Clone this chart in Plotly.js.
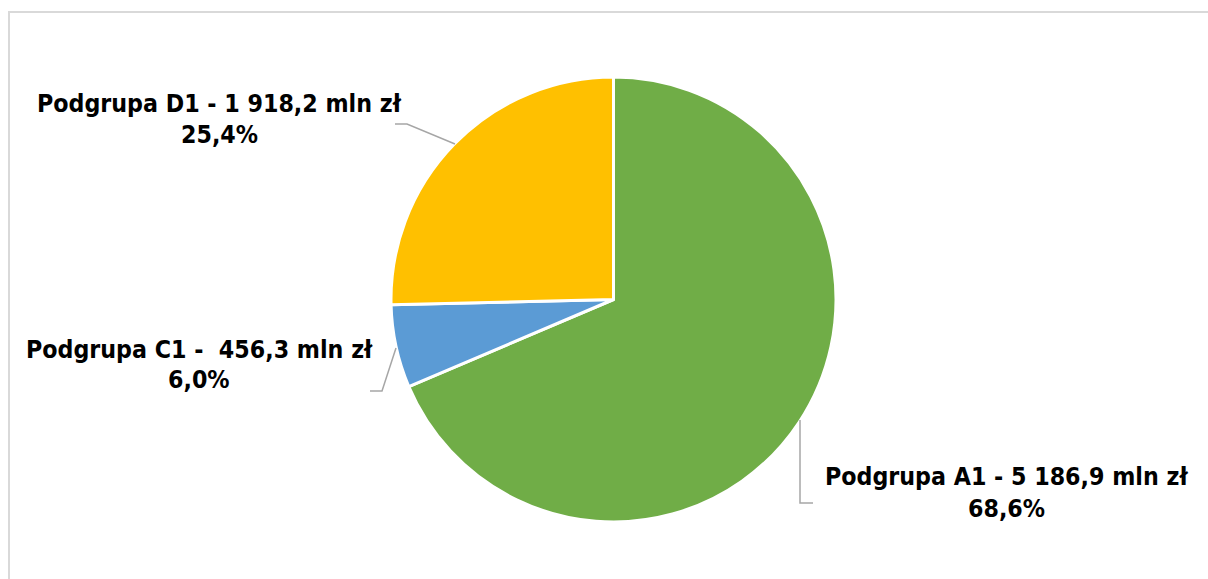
<!DOCTYPE html>
<html>
<head>
<meta charset="utf-8">
<script src="https://cdn.plot.ly/plotly-3.0.1.min.js"></script>
<style>html,body{margin:0;padding:0;background:#fff;}#chart{width:1208px;height:579px;}</style>
</head>
<body>
<div id="chart"></div>
<script>
// Data
const categories = ["Podgrupa A1", "Podgrupa C1", "Podgrupa D1"];
const values = [5186.9, 456.3, 1918.2];
const amountLabels = ["5 186,9 mln zł", " 456,3 mln zł", "1 918,2 mln zł"];
const percentLabels = ["68,6%", "6,0%", "25,4%"];
const colors = ["#70AD47", "#5B9BD5", "#FFC000"];

const W = 1208, H = 579;
const px = x => x / W;
const py = y => 1 - y / H;

// label placement (pixel positions of each label's two lines)
const labelPos = [
  {x: 1006, y1: 476, y2: 508},
  {x: 199, y1: 349, y2: 379},
  {x: 219, y1: 103, y2: 135}
];
// leader line paths (pixel coordinates)
const leaders = [
  [[800, 420], [800, 503], [813, 503]],
  [[396, 348], [382, 391], [370, 391]],
  [[455, 144], [407, 124], [395, 124]]
];

const font = {family: "DejaVu Sans Condensed, DejaVu Sans, sans-serif", size: 24.7, color: "#000"};

const annotations = [];
categories.forEach((c, i) => {
  const p = labelPos[i];
  annotations.push({xref: "paper", yref: "paper", x: px(p.x), y: py(p.y1), xanchor: "center", yanchor: "middle",
    text: "<b>" + c + " - " + amountLabels[i].replace(/ /g, "\u00a0") + "</b>", showarrow: false, font: font});
  annotations.push({xref: "paper", yref: "paper", x: px(p.x), y: py(p.y2), xanchor: "center", yanchor: "middle",
    text: "<b>" + percentLabels[i] + "</b>", showarrow: false, font: font});
});

const shapes = leaders.map(pts => ({
  type: "path", xref: "paper", yref: "paper",
  path: pts.map((p, k) => (k ? "L" : "M") + px(p[0]) + "," + py(p[1])).join(" "),
  line: {color: "#A6A6A6", width: 1.5}
}));
// chart frame
shapes.push({type: "rect", xref: "paper", yref: "paper", x0: px(9), y0: py(12), x1: 1.01, y1: -0.02,
  line: {color: "#D9D9D9", width: 2}, fillcolor: "rgba(0,0,0,0)"});

const trace = {
  type: "pie",
  labels: categories,
  values: values,
  sort: false,
  direction: "clockwise",
  rotation: 0,
  marker: {colors: colors, line: {color: "#FFFFFF", width: 3}},
  textinfo: "none",
  hoverinfo: "label+value+percent",
  domain: {x: [px(391), px(836)], y: [py(522), py(77)]},
  showlegend: false
};

Plotly.newPlot("chart", [trace], {
  width: W, height: H,
  margin: {l: 0, r: 0, t: 0, b: 0},
  paper_bgcolor: "#fff",
  showlegend: false,
  annotations: annotations,
  shapes: shapes
}, {staticPlot: true});
</script>
</body>
</html>
